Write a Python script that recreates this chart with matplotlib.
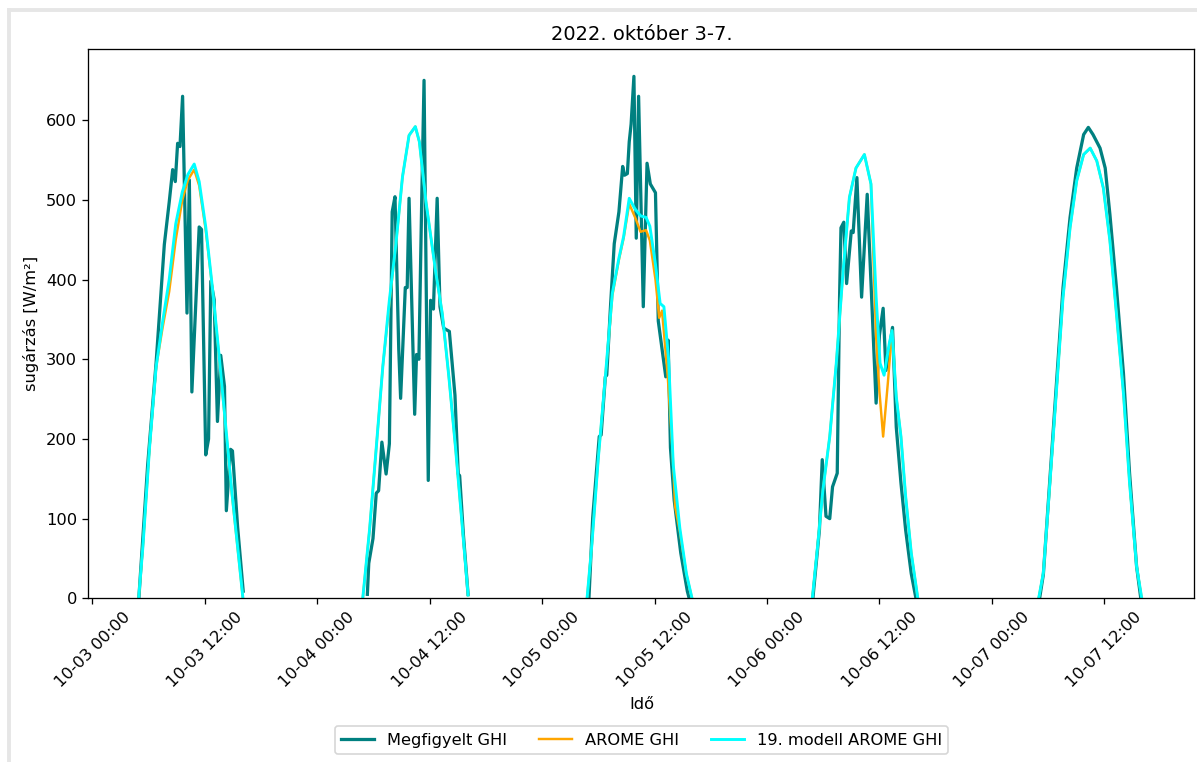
import numpy as np
import pandas as pd
import matplotlib
matplotlib.use('Agg')
from matplotlib import pyplot as plt
import matplotlib.dates as mdates
from matplotlib.lines import Line2D

nan = np.nan
start = pd.Timestamp('2022-10-03 00:00')

## hours since 10-03 00:00, NaN value = night gap
obs_hours = [4.96, 5.9, 6.8, 7.68, 8.2, 8.57, 8.85, 9.1, 9.35, 9.63, 10.1, 10.35, 10.62, 11.4, 11.65,
             12.1, 12.4, 12.64, 13.0, 13.35, 13.7, 14.1, 14.3, 14.75, 14.95, 15.5, 16.1,
             22.0,
             29.35, 29.5, 29.95, 30.3, 30.55, 30.9, 31.35, 31.7, 32.0, 32.3, 32.7, 32.9, 33.4, 33.6, 33.8,
             34.4, 34.6, 34.85, 35.15, 35.4, 35.85, 36.1, 36.4, 36.8, 37.1, 37.5, 38.1, 38.7, 39.05,
             39.2, 39.6, 40.1,
             46.0,
             53.0, 53.4, 54.1, 54.3, 54.75, 54.9, 55.3, 55.7, 56.2, 56.6, 56.8, 57.1, 57.3, 57.5, 57.8,
             58.05, 58.3, 58.8, 59.2, 59.55, 60.1, 60.4, 60.8, 61.2, 61.35, 61.45, 61.7, 62.1, 62.8,
             63.5, 63.7,
             70.0,
             76.9, 77.6, 77.9, 78.3, 78.7, 79.0, 79.5, 79.75, 79.9, 80.2, 80.5, 81.0, 81.2, 81.6, 82.1,
             82.7, 83.65, 84.0, 84.4, 84.7, 85.4, 85.8, 86.3, 86.8, 87.4, 87.9,
             94.0,
             101.1, 101.5, 102.2, 102.9, 103.6, 104.35, 105.06, 105.8, 106.3, 106.8, 107.55, 108.1,
             108.6, 109.3, 110.05, 110.7, 111.45, 111.9]
obs_ghi = [0, 167, 295, 444, 497, 538, 523, 571, 567, 630, 358, 525, 259, 466, 463,
           180, 200, 398, 375, 222, 305, 266, 110, 187, 185, 90, 9,
           nan,
           5, 44, 75, 132, 135, 196, 156, 194, 485, 504, 313, 251, 390, 390, 502,
           231, 306, 300, 498, 650, 148, 374, 363, 502, 366, 339, 335, 255, 156,
           154, 80, 5,
           nan,
           0, 101, 203, 205, 278, 280, 366, 445, 485, 542, 531, 533, 573, 595, 655,
           452, 630, 366, 546, 520, 509, 348, 313, 278, 280, 324, 189, 123, 57,
           9, 0,
           nan,
           0, 86, 174, 103, 100, 140, 157, 378, 465, 472, 395, 461, 459, 528, 378,
           507, 245, 330, 364, 286, 340, 215, 145, 86, 31, 0,
           nan,
           0, 30, 150, 268, 390, 478, 540, 582, 591, 582, 565, 540,
           482, 390, 282, 157, 40, 0]

arome_hours = [4.94, 5.4, 6.1, 6.8, 7.5, 8.2, 8.9, 9.6, 10.2, 10.87, 11.4, 12.1, 12.8, 13.5, 14.2,
               14.9, 15.65, 16.07,
               22.0,
               28.86, 29.6, 30.3, 31.0, 31.7, 32.4, 33.1, 33.8, 34.47, 34.9, 35.6, 36.64, 37.35, 38.05,
               38.76, 39.46, 40.1,
               46.0,
               52.8, 53.3, 54.0, 54.75, 55.5, 56.2, 56.7, 57.3, 58.0, 58.5, 59.1, 59.5, 60.1, 60.5,
               60.8, 61.4, 61.9, 62.2, 62.7, 63.4, 64.0,
               70.0,
               76.84, 77.4, 77.97, 78.7, 79.4, 80.1, 80.8, 81.5, 82.4, 83.1, 83.65, 84.0, 84.4, 84.9,
               85.35, 85.8, 86.3, 86.8, 87.4, 88.1,
               94.0,
               101.0, 101.5, 102.2, 102.9, 103.6, 104.35, 105.06, 105.8, 106.5, 107.2, 107.9, 108.6,
               109.3, 110.05, 110.7, 111.45, 112.0]
arome_ghi = [0, 66, 189, 290, 340, 385, 450, 500, 525, 538, 518, 462, 390, 306, 218,
             130, 47, 0,
             nan,
             0, 88, 189, 291, 370, 445, 529, 581, 592, 573, 498, 410, 357, 278,
             189, 93, 4,
             nan,
             0, 66, 176, 278, 380, 425, 452, 495, 476, 460, 462, 449, 400, 352,
             361, 280, 189, 115, 84, 30, 0,
             nan,
             0, 65, 136, 203, 295, 407, 503, 540, 557, 520, 328, 260, 203, 270,
             336, 253, 203, 128, 57, 0,
             nan,
             0, 32, 145, 261, 378, 465, 524, 557, 565, 549, 515, 449,
             357, 257, 145, 40, 0]

model_hours = [4.94, 5.4, 6.1, 6.8, 7.5, 8.2, 8.9, 9.6, 10.2, 10.87, 11.4, 12.1, 12.8, 13.5, 14.2,
               14.9, 15.65, 16.07,
               22.0,
               28.86, 29.6, 30.3, 31.0, 31.7, 32.4, 33.1, 33.8, 34.47, 34.9, 35.6, 36.64, 37.35, 38.05,
               38.76, 39.46, 40.1,
               46.0,
               52.8, 53.3, 54.0, 54.75, 55.5, 56.2, 56.7, 57.3, 57.9, 58.5, 59.1, 59.5, 60.1, 60.6,
               61.0, 61.5, 62.0, 62.7, 63.4, 64.0,
               70.0,
               76.84, 77.4, 77.97, 78.7, 79.4, 80.1, 80.8, 81.5, 82.4, 83.1, 83.65, 84.07, 84.5, 85.06,
               85.35, 85.8, 86.3, 86.8, 87.4, 88.1,
               94.0,
               101.0, 101.5, 102.2, 102.9, 103.6, 104.35, 105.06, 105.8, 106.5, 107.2, 107.9, 108.6,
               109.3, 110.05, 110.7, 111.45, 112.0]
model_ghi = [0, 66, 189, 290, 347, 400, 470, 510, 532, 545, 523, 466, 391, 308, 220,
             132, 48, 0,
             nan,
             0, 88, 189, 291, 374, 445, 529, 581, 592, 573, 498, 410, 357, 278,
             189, 93, 4,
             nan,
             0, 66, 176, 278, 383, 427, 454, 502, 489, 480, 478, 467, 419, 370,
             366, 300, 167, 88, 31, 0,
             nan,
             0, 65, 136, 203, 295, 407, 503, 540, 557, 520, 378, 295, 280, 320,
             336, 253, 203, 128, 57, 0,
             nan,
             0, 32, 145, 261, 378, 465, 524, 557, 565, 549, 515, 449,
             357, 257, 145, 40, 0]


def to_time(hours):
    return start + pd.to_timedelta(np.array(hours), unit='h')


fig = plt.figure(figsize=(1197 / 117, 762 / 117), dpi=117)
ax = fig.add_axes([0.0738, 0.2148, 0.9241, 0.7205])

ax.plot(to_time(obs_hours), obs_ghi, color='teal', lw=2, label='Megfigyelt GHI')
ax.plot(to_time(arome_hours), arome_ghi, color='orange', lw=1.5, label='AROME GHI')
ax.plot(to_time(model_hours), model_ghi, color='cyan', lw=1.8, label='19. modell AROME GHI')

ax.set_title('2022. október 3-7.')
ax.set_xlabel('Idő')
ax.set_ylabel('sugárzás [W/m²]')
ax.set_ylim(0, 689)
ax.set_xlim(start - pd.Timedelta(hours=0.43), start + pd.Timedelta(hours=117.63))
ax.xaxis.set_major_locator(mdates.HourLocator(byhour=[0, 12]))
ax.xaxis.set_major_formatter(mdates.DateFormatter('%m-%d %H:%M'))
plt.setp(ax.get_xticklabels(), rotation=45)

ax.legend(loc='upper center', bbox_to_anchor=(0.5, -0.218), ncol=3)

## grey frame of the notebook cell
fig.add_artist(Line2D([8.5 / 1197, 1.0], [1 - 10 / 762, 1 - 10 / 762], color='#e6e6e6', lw=2.4))
fig.add_artist(Line2D([8.5 / 1197, 8.5 / 1197], [0, 1 - 10 / 762], color='#e6e6e6', lw=2.4))

fig.savefig('out.png', dpi=117)
